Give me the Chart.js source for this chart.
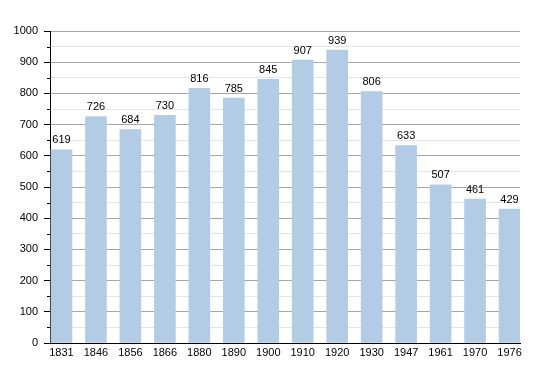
<!DOCTYPE html>
<html>
<head>
<meta charset="utf-8">
<script src="https://cdn.jsdelivr.net/npm/chart.js@4"></script>
<style>
  html, body { margin: 0; padding: 0; background: #fff; }
  #wrap { width: 550px; height: 373px; }
</style>
</head>
<body>
<div id="wrap"><canvas id="popChart"></canvas></div>
<script>
const years = ["1831", "1846", "1856", "1866", "1880", "1890", "1900", "1910", "1920", "1930", "1947", "1961", "1970", "1976"];
const population = [619, 726, 684, 730, 816, 785, 845, 907, 939, 806, 633, 507, 461, 429];
const yTicks = [0, 100, 200, 300, 400, 500, 600, 700, 800, 900, 1000];

const FONT = { family: "'Liberation Sans', Arial, sans-serif", size: 11 };

// value labels above each bar + short minor ticks on the y axis
const barLabels = {
  id: "barLabels",
  afterDatasetsDraw(chart) {
    const ctx = chart.ctx;
    const meta = chart.getDatasetMeta(0);
    ctx.save();
    ctx.font = "11px 'Liberation Sans', Arial, sans-serif";
    ctx.fillStyle = "#000";
    ctx.textAlign = "center";
    ctx.textBaseline = "bottom";
    meta.data.forEach((bar, i) => {
      ctx.fillText(population[i], bar.x, bar.y - 4);
    });

    const y = chart.scales.y;
    ctx.strokeStyle = "#000";
    ctx.lineWidth = 1;
    ctx.beginPath();
    y.ticks.forEach((t) => {
      if (t.value % 100 === 0) return;
      const py = Math.round(y.getPixelForValue(t.value)) + 0.5;
      ctx.moveTo(y.right - 3, py);
      ctx.lineTo(y.right, py);
    });
    ctx.stroke();
    ctx.restore();
  }
};

new Chart(document.getElementById("popChart"), {
  type: "bar",
  data: {
    datasets: [
      {
        data: population.map((v, i) => ({ x: i, y: v })),
        backgroundColor: "#b3cce6",
        borderWidth: 0,
        barThickness: 21
      }
    ]
  },
  options: {
    responsive: true,
    maintainAspectRatio: false,
    animation: false,
    layout: { padding: { left: 0, top: 31, right: 30, bottom: 0 } },
    plugins: {
      legend: { display: false },
      tooltip: { enabled: false }
    },
    scales: {
      x: {
        type: "linear",
        offset: false,
        min: -0.333,
        max: 13.304,
        afterBuildTicks: (scale) => {
          scale.ticks = years.map((_, i) => ({ value: i }));
        },
        afterFit: (scale) => { scale.height = 30; },
        grid: { display: true, color: "rgba(0,0,0,0)", drawTicks: false },
        border: { display: true, color: "#000", width: 1 },
        ticks: {
          color: "#000",
          font: FONT,
          padding: 3,
          maxRotation: 0,
          autoSkip: false,
          callback: (v) => years[v]
        }
      },
      y: {
        min: 0,
        max: 1000,
        afterFit: (scale) => { scale.width = 50; },
        afterBuildTicks: (scale) => {
          const t = [];
          for (let v = 0; v <= 1000; v += 50) t.push({ value: v });
          scale.ticks = t;
        },
        grid: {
          color: (c) => (c.tick && c.tick.value % 100 === 0 ? "#a6a6a6" : "#e4e4e4"),
          tickColor: (c) => (c.tick && c.tick.value % 100 === 0 ? "#000" : "rgba(0,0,0,0)"),
          tickLength: 6
        },
        border: { display: true, color: "#000", width: 1 },
        ticks: {
          color: "#000",
          font: FONT,
          padding: 6,
          autoSkip: false,
          callback: (v) => (yTicks.includes(v) ? String(v) : "")
        }
      }
    }
  },
  plugins: [barLabels]
});
</script>
</body>
</html>
